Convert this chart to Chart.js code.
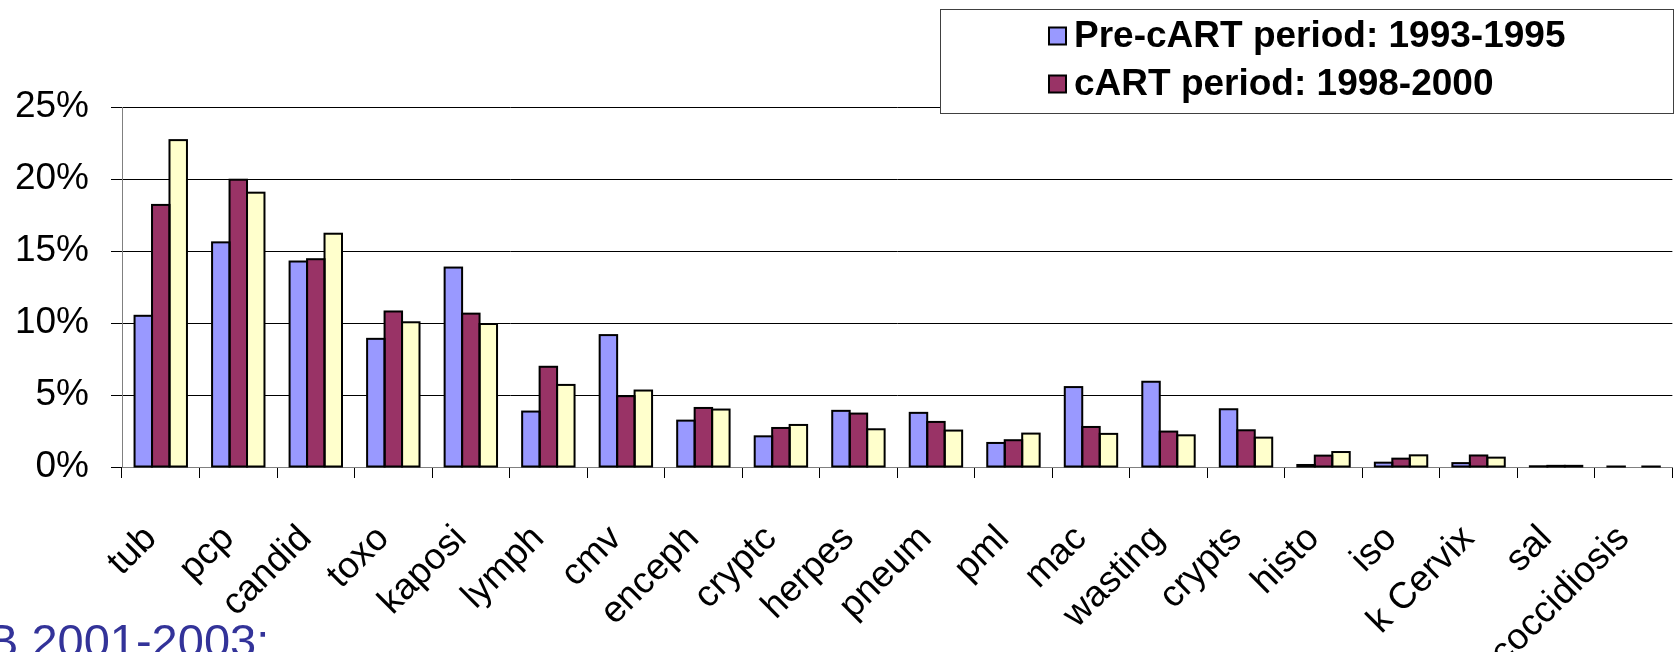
<!DOCTYPE html>
<html>
<head>
<meta charset="utf-8">
<script src="https://cdn.jsdelivr.net/npm/chart.js@4"></script>
<style>
  html, body { margin: 0; padding: 0; background: #fff; overflow: hidden; }
  #wrap { position: relative; width: 1675px; height: 652px; }
  canvas { display: block; }
</style>
</head>
<body>
<div id="wrap"><canvas id="c" width="1675" height="652"></canvas></div>
<script>
// Opportunistic infections as share of AIDS-defining events (%)
const categories = ['tub', 'pcp', 'candid', 'toxo', 'kaposi', 'lymph', 'cmv', 'enceph', 'cryptc', 'herpes',
                    'pneum', 'pml', 'mac', 'wasting', 'crypts', 'histo', 'iso', 'k Cervix', 'sal', 'coccidiosis'];
const preCart  = [10.5, 15.6, 14.27, 8.9, 13.85, 3.85, 9.16, 3.22, 2.13, 3.9,
                  3.76, 1.67, 5.55, 5.92, 4.01, 0.14, 0.3, 0.27, 0.05, 0.03];
const cart     = [18.2, 19.95, 14.43, 10.8, 10.65, 6.96, 4.92, 4.1, 2.71, 3.71,
                  3.13, 1.86, 2.78, 2.46, 2.55, 0.79, 0.58, 0.8, 0.08, null];
const period3  = [22.7, 19.05, 16.2, 10.05, 9.93, 5.7, 5.31, 3.99, 2.92, 2.62,
                  2.53, 2.32, 2.3, 2.2, 2.04, 1.04, 0.81, 0.65, 0.08, 0.03];
const seriesLabels = ['Pre-cART period: 1993-1995', 'cART period: 1998-2000', 'cART period: 2001-2003'];
const seriesColors = ['#9999FF', '#993366', '#FFFFCC'];
const yTicks = [0, 5, 10, 15, 20, 25];
const footText = 'B 2001-2003:';

const FONT = '"Liberation Sans", Arial, Helvetica, sans-serif';

// Excel-style outlines: a 2px stroke centred on each bar edge
const barOutline = {
  id: 'barOutline',
  afterDatasetsDraw(chart) {
    const ctx = chart.ctx;
    ctx.save();
    ctx.strokeStyle = '#000';
    ctx.lineWidth = 2;
    chart.data.datasets.forEach((ds, i) => {
      const meta = chart.getDatasetMeta(i);
      meta.data.forEach((bar, j) => {
        if (ds.data[j] == null) return;
        const p = bar.getProps(['x', 'y', 'base', 'width'], true);
        if (!isFinite(p.y)) return;
        ctx.strokeRect(p.x - p.width / 2, Math.min(p.y, p.base), p.width, Math.abs(p.base - p.y));
      });
    });
    ctx.restore();
  }
};

// Boxed legend in the top-right corner (first two series)
const boxLegend = {
  id: 'boxLegend',
  afterDraw(chart) {
    const ctx = chart.ctx;
    ctx.save();
    const bx = 940.5, by = 9.5, bw = 733, bh = 104;
    ctx.fillStyle = '#fff';
    ctx.fillRect(bx, by, bw, bh);
    ctx.strokeStyle = '#404040';
    ctx.lineWidth = 1;
    ctx.strokeRect(bx, by, bw, bh);
    ctx.font = 'bold 37px ' + FONT;
    ctx.textBaseline = 'middle';
    ctx.textAlign = 'left';
    [0, 1].forEach((i, r) => {
      const cy = 36 + r * 48;
      const ds = chart.data.datasets[i];
      ctx.fillStyle = ds.backgroundColor;
      ctx.fillRect(1049, cy - 8.5, 17, 17);
      ctx.strokeStyle = '#000';
      ctx.lineWidth = 2;
      ctx.strokeRect(1049, cy - 8.5, 17, 17);
      ctx.fillStyle = '#000';
      ctx.fillText(ds.label, 1074, cy + 1);
    });
    ctx.restore();
  }
};

// Caption running off the lower-left edge
const footCaption = {
  id: 'footCaption',
  afterDraw(chart) {
    const ctx = chart.ctx;
    ctx.save();
    ctx.font = '47px ' + FONT;
    ctx.fillStyle = '#333399';
    ctx.textBaseline = 'alphabetic';
    ctx.textAlign = 'left';
    ctx.fillText(footText, -13, 657);
    ctx.restore();
  }
};

new Chart(document.getElementById('c'), {
  type: 'bar',
  data: {
    labels: categories,
    datasets: [
      { label: seriesLabels[0], data: preCart, backgroundColor: seriesColors[0] },
      { label: seriesLabels[1], data: cart,    backgroundColor: seriesColors[1] },
      { label: seriesLabels[2], data: period3, backgroundColor: seriesColors[2] }
    ]
  },
  plugins: [barOutline, boxLegend, footCaption],
  options: {
    responsive: false,
    animation: false,
    devicePixelRatio: 1,
    layout: { padding: { top: 107, right: 0, left: 0, bottom: 0 } },
    plugins: { legend: { display: false }, tooltip: { enabled: false } },
    datasets: { bar: { categoryPercentage: 0.676, barPercentage: 1, borderWidth: 0 } },
    scales: {
      x: {
        // long tick slot pushes the labels down; the dash keeps only a 10px mark visible
        grid: {
          offset: true, drawOnChartArea: false, drawTicks: true,
          tickLength: 40, tickBorderDash: [10, 400], tickColor: '#000', lineWidth: 1
        },
        border: { display: true, color: '#808080', width: 1 },
        ticks: {
          font: { family: FONT, size: 37 }, color: '#000',
          maxRotation: 45, minRotation: 45, autoSkip: false, padding: 10, labelOffset: -10
        },
        afterFit(s) { s.height = 185; }
      },
      y: {
        min: 0, max: 25,
        afterBuildTicks(s) { s.ticks = yTicks.map(v => ({ value: v })); },
        grid: { color: '#000', lineWidth: 1, tickLength: 11, tickColor: '#000' },
        border: { display: true, color: '#808080', width: 1 },
        ticks: {
          font: { family: FONT, size: 37 }, color: '#000', padding: 22,
          callback: v => v + '%'
        },
        afterFit(s) { s.width = 122; }
      }
    }
  }
});
</script>
</body>
</html>
